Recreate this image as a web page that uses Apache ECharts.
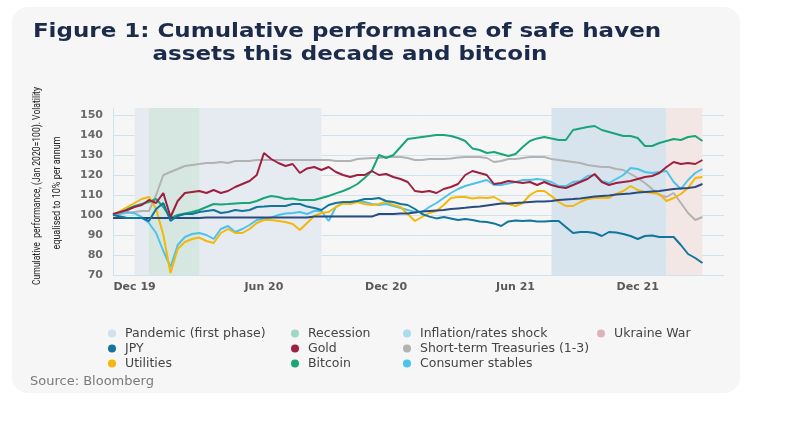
<!DOCTYPE html>
<html>
<head>
<meta charset="utf-8">
<script src="https://cdn.jsdelivr.net/npm/echarts@6/dist/echarts.min.js"></script>
<style>
html,body{margin:0;padding:0;background:#ffffff;}
#chart{width:810px;height:432px;}
</style>
</head>
<body>
<div id="chart"></div>
<script>
// Categories: every 10 days (1st, 11th, 21st) from Jan 2020; last 3 are empty padding
const categories = [
'2020-01-01','2020-01-11','2020-01-21','2020-02-01','2020-02-11','2020-02-21','2020-03-01','2020-03-11','2020-03-21',
'2020-04-01','2020-04-11','2020-04-21','2020-05-01','2020-05-11','2020-05-21','2020-06-01','2020-06-11','2020-06-21',
'2020-07-01','2020-07-11','2020-07-21','2020-08-01','2020-08-11','2020-08-21','2020-09-01','2020-09-11','2020-09-21',
'2020-10-01','2020-10-11','2020-10-21','2020-11-01','2020-11-11','2020-11-21','2020-12-01','2020-12-11','2020-12-21',
'2021-01-01','2021-01-11','2021-01-21','2021-02-01','2021-02-11','2021-02-21','2021-03-01','2021-03-11','2021-03-21',
'2021-04-01','2021-04-11','2021-04-21','2021-05-01','2021-05-11','2021-05-21','2021-06-01','2021-06-11','2021-06-21',
'2021-07-01','2021-07-11','2021-07-21','2021-08-01','2021-08-11','2021-08-21','2021-09-01','2021-09-11','2021-09-21',
'2021-10-01','2021-10-11','2021-10-21','2021-11-01','2021-11-11','2021-11-21','2021-12-01','2021-12-11','2021-12-21',
'2022-01-01','2022-01-11','2022-01-21','2022-02-01','2022-02-11','2022-02-21','2022-03-01','2022-03-11','2022-03-21',
'2022-04-01','2022-04-11','2022-04-21','2022-05-01','2022-05-11'
];

// x tick labels (as printed in the source) and the category index each sits on
const tickLabels = ['Dec 19', 'Jun 20', 'Dec 20', 'Jun 21', 'Dec 21'];
const tickIndices = [3, 21, 38, 56, 73];

// y ticks
const yTickMin = 70;
const yTickMax = 150;
const yTickStep = 10;

// Shaded periods [start category, end category]
const pandemicPeriod = ['2020-02-01', '2020-10-21'];
const recessionPeriod = ['2020-02-21', '2020-05-01'];
const inflationPeriod = ['2021-09-11', '2022-02-21'];
const ukrainePeriod = ['2022-02-21', '2022-04-11'];

const jpy = [100, 99.3, 98.5, 98.5, 98.5, 97, 103, 106, 97, 99.5,
  100.5, 100.5, 101.5, 102, 102.5, 101, 101.5, 102.5, 102, 102.5,
  104, 104.2, 104.5, 104.5, 104.5, 105.5, 105.5, 104.2, 103.5, 102.5,
  105, 106, 106.5, 106.5, 107, 108, 108, 108.5, 107, 106.5,
  105.5, 105, 103, 100.5, 99.2, 98.3, 99, 98.3, 97.5, 98,
  97.5, 96.7, 96.5, 95.8, 94.5, 96.8, 97.3, 97, 97.3, 96.8,
  96.7, 97, 97, 94, 91, 91.5, 91.5, 91, 89.5, 91.5,
  91.2, 90.5, 89.5, 88, 89.5, 89.8, 89, 89, 89, 85,
  80.5, 78.5, 76];

const gold = [100.5, 101.5, 102.5, 104, 105, 107.5, 106, 111, 99, 107,
  111, 111.5, 112, 111, 112.5, 111, 112, 114, 115.5, 117,
  120, 131, 128, 126, 124.5, 125.5, 121, 123.3, 124, 122.5,
  124, 121.5, 120, 119, 120, 120, 122, 120, 120.5, 119,
  118, 116.5, 112, 111.5, 112, 111, 113, 114, 115.5, 120,
  122, 121, 120, 115.5, 116, 117, 116.5, 116, 116.5, 115,
  116.5, 115, 114, 113.5, 115, 116.5, 118, 120.5, 116.5, 115,
  116, 116.5, 117, 118, 119, 119.5, 121, 124, 126.5, 125.5,
  126, 125.5, 127.5];

const treasuries = [100, 100.5, 101, 101.5, 102, 102, 110, 120, 121.5, 123,
  124.5, 125, 125.5, 126, 126, 126.5, 126, 127, 127, 127,
  127.5, 127.5, 127.5, 127.5, 127.5, 127.5, 127.5, 127.5, 127.5, 127.5,
  127.5, 127, 127, 127, 128, 128.3, 128.5, 128.5, 129, 129,
  129, 128.5, 127.5, 127.5, 128, 128, 128, 128.3, 128.8, 129,
  129, 129, 128.5, 126.5, 127, 128, 128, 128.5, 129, 129,
  129, 128, 127.5, 127, 126.5, 126, 125, 124.5, 124, 124,
  123, 122.5, 120.5, 118.5, 116, 113, 110, 109, 111, 106,
  101, 97.5, 99];

const utilities = [100, 102, 104, 106, 108, 109, 103, 90, 71, 83,
  86.5, 88, 88.7, 87, 86, 91, 93, 91, 91, 93,
  96, 97.5, 97.5, 97, 96.5, 95.5, 92.5, 96, 99.5, 101,
  101.5, 104, 105.8, 105.5, 106.5, 105.5, 105, 105.5, 106.7, 105,
  104, 100.5, 97, 99, 101, 102, 105, 108.5, 109, 109,
  108.3, 108.7, 108.5, 109, 107, 105.5, 104.5, 106, 110, 112,
  112, 109.5, 106.5, 104.5, 104.5, 106.5, 108, 108.5, 108.5, 108.5,
  110.5, 112, 114.5, 112.5, 111.5, 111, 110.5, 107, 108.5, 110.5,
  113.5, 118.5, 119];

const bitcoin = [100, 101.5, 103, 104.5, 105.5, 106.5, 108, 104, 98.5, 100,
  100.8, 101.5, 102.5, 104, 105.5, 105.3, 105.5, 105.8, 106, 106,
  107, 108.5, 109.5, 109, 108, 108.3, 107.5, 107.5, 107.5, 108.5,
  109.5, 110.8, 112, 113.5, 115.5, 118.5, 122, 130, 128.5, 130,
  134, 138, 138.5, 139, 139.5, 140, 140, 139.5, 138.5, 137,
  133.3, 132.5, 131, 131.5, 130.5, 129.5, 130.5, 134, 137, 138.3,
  139, 138.3, 137.5, 137.5, 142.5, 143.3, 144, 144.5, 142.5, 141.5,
  140.5, 139.5, 139.5, 138.5, 134.5, 134.5, 136, 137, 138, 137.5,
  139, 139.5, 137];

const consumerStables = [100, 100.8, 101.5, 100.8, 99, 96, 91, 82, 74, 85,
  89, 90.5, 91, 90, 88, 93, 94.5, 91.5, 93, 95,
  97.5, 98.3, 98.8, 100, 100.8, 101, 101.5, 100.5, 102, 102,
  97, 104, 106, 106.5, 106.7, 106.5, 105.5, 105, 105.5, 104.5,
  103.5, 102.5, 101.5, 101.5, 104, 106, 108.5, 111, 113, 114.5,
  115.5, 116.5, 117.5, 115, 115, 115.8, 116.5, 117.5, 117.5, 118,
  117.5, 116.5, 114.5, 114.5, 116.5, 117, 119.5, 120, 117, 116,
  118, 120, 123.5, 123, 121.5, 121, 121.5, 122, 116.5, 113,
  117.5, 121, 123];

// unlabelled dark navy line
const navyLine = [98.5, 98.5, 98.5, 98.5, 98.5, 98.5, 98.5, 98.5, 98.5, 98.5,
  98.5, 98.5, 98.5, 98.8, 98.8, 98.8, 98.8, 98.8, 98.8, 98.8,
  98.8, 98.8, 98.8, 98.8, 98.8, 98.8, 98.8, 98.8, 99.2, 99.2,
  99.2, 99.2, 99.2, 99.2, 99.2, 99.2, 99.2, 100.5, 100.5, 100.5,
  100.8, 100.8, 101.3, 101.7, 102, 102.3, 102.5, 103, 103.3, 103.6,
  104, 104.3, 104.8, 105.3, 105.8, 105.8, 106, 106.2, 106.5, 106.7,
  106.7, 107, 107.5, 107.8, 108, 108.3, 108.8, 109.2, 109.5, 109.8,
  110.2, 110.5, 110.8, 111.2, 111.5, 111.8, 112, 112.5, 113, 113.3,
  113.5, 114, 115.5];

const gridColor = '#cfe3ef';
const font = 'Roboto, "Open Sans", sans-serif';
const wideFont = '"DejaVu Sans", Roboto, sans-serif';

const chart = echarts.init(document.getElementById('chart'), null, {renderer: 'canvas'});

function areaSeries(name, dotColor, fill, period) {
  return {
    name: name, type: 'line', data: [], symbol: 'none',
    itemStyle: {color: dotColor}, lineStyle: {color: dotColor},
    markArea: {silent: true, itemStyle: {color: fill, opacity: 1},
      data: [[{xAxis: period[0]}, {xAxis: period[1]}]]}
  };
}
function lineSeries(name, color, data, z) {
  return {
    name: name, type: 'line', data: data, symbol: 'none', showSymbol: false,
    itemStyle: {color: color}, lineStyle: {color: color, width: 2}, z: z
  };
}

const splitColors = [];
for (let v = yTickMin; v <= yTickMax; v += yTickStep) splitColors.push(gridColor);
splitColors.push('rgba(0,0,0,0)');

function legendCol(left, names) {
  return {
    orient: 'vertical', left: left, top: 321, data: names,
    icon: 'circle', itemWidth: 8, itemHeight: 8, itemGap: 0,
    textStyle: {fontFamily: wideFont, fontSize: 12.5, color: '#444', lineHeight: 15, padding: [0, 0, 0, 4]},
    selectedMode: true
  };
}

const titleStyle = {fontFamily: '"DejaVu Sans", sans-serif', fontWeight: 'bold', fontSize: 20,
  fill: '#1c2b4c', align: 'center', verticalAlign: 'middle'};

chart.setOption({
  backgroundColor: '#ffffff',
  animation: false,
  graphic: [
    {type: 'rect', left: 12, top: 7, z: -100, silent: true,
      shape: {width: 728, height: 386, r: 16}, style: {fill: '#f6f6f6'}},
    {type: 'text', x: 347, y: 32, scaleX: 1.15, silent: true,
      style: Object.assign({text: 'Figure 1: Cumulative performance of safe haven'}, titleStyle)},
    {type: 'text', x: 350, y: 55, scaleX: 1.15, silent: true,
      style: Object.assign({text: 'assets this decade and bitcoin'}, titleStyle)},
    {type: 'text', x: 37, y: 186, rotation: Math.PI / 2, scaleX: 0.78, silent: true,
      style: {text: 'Cumulative  performance, (Jan 2020=100). Volatility', fontFamily: font, fontSize: 11,
        fill: '#222', align: 'center', verticalAlign: 'middle'}},
    {type: 'text', x: 57, y: 193, rotation: Math.PI / 2, scaleX: 0.82, silent: true,
      style: {text: 'equalised to 10% per annum', fontFamily: font, fontSize: 11,
        fill: '#222', align: 'center', verticalAlign: 'middle'}},
    {type: 'text', x: 30, y: 382, silent: true,
      style: {text: 'Source: Bloomberg', fontFamily: wideFont, fontSize: 13, fill: '#7a7a7a', verticalAlign: 'middle'}}
  ],
  legend: [
    legendCol(103, ['Pandemic (first phase)', 'JPY', 'Utilities']),
    legendCol(286, ['Recession', 'Gold', 'Bitcoin']),
    legendCol(398, ['Inflation/rates shock', 'Short-term Treasuries (1-3)', 'Consumer stables']),
    legendCol(592, ['Ukraine War'])
  ],
  grid: {left: 113, right: 86, top: 108, bottom: 157, containLabel: false},
  xAxis: {
    type: 'category', data: categories, boundaryGap: false,
    axisLine: {show: false}, axisTick: {show: false}, splitLine: {show: false},
    axisLabel: {
      interval: function (idx) { return tickIndices.indexOf(idx) >= 0; },
      formatter: function (val, idx) { const k = tickIndices.indexOf(idx); return k >= 0 ? tickLabels[k] : ''; },
      color: '#5a5a5a', fontFamily: wideFont, fontWeight: 'bold', fontSize: 11, margin: 7
    }
  },
  yAxis: {
    type: 'value', min: yTickMin, max: 153.5, interval: yTickStep,
    axisLine: {show: true, lineStyle: {color: gridColor, width: 1}},
    axisTick: {show: false},
    splitLine: {show: true, lineStyle: {color: splitColors, width: 1}},
    axisLabel: {showMaxLabel: false, color: '#6a6a6a', fontFamily: wideFont, fontWeight: 'bold', fontSize: 11, margin: 10}
  },
  series: [
    areaSeries('Pandemic (first phase)', '#cfe2f0', '#e6ebf1', pandemicPeriod),
    areaSeries('Recession', '#9fd8c0', '#d6e7e1', recessionPeriod),
    areaSeries('Inflation/rates shock', '#a9dcef', '#d7e4ee', inflationPeriod),
    areaSeries('Ukraine War', '#dfb3b5', '#f2e7e5', ukrainePeriod),
    lineSeries('Short-term Treasuries (1-3)', '#b2b2b2', treasuries, 3),
    lineSeries('Bitcoin', '#1aa579', bitcoin, 4),
    lineSeries('Consumer stables', '#4cc3ea', consumerStables, 5),
    lineSeries('Utilities', '#f5b70a', utilities, 6),
    lineSeries('Navy', '#2a4b80', navyLine, 7),
    lineSeries('Gold', '#9e1f3f', gold, 8),
    lineSeries('JPY', '#12759a', jpy, 9)
  ]
});
</script>
</body>
</html>
